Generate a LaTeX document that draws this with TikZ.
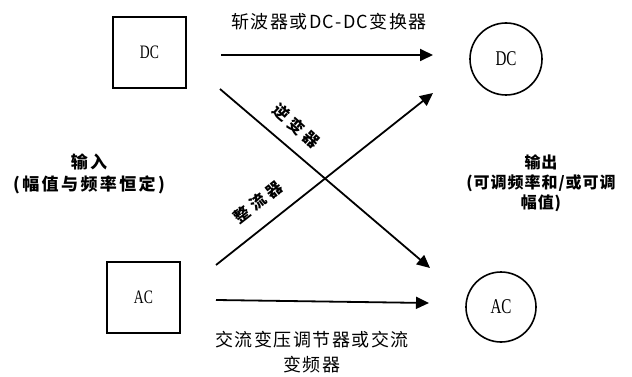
\documentclass[tikz,border=0pt]{standalone}
\usepackage{fontspec}
\setmainfont{Liberation Serif}
\newfontfamily\cjk{Noto Sans CJK SC}[LetterSpace=8]
\newfontfamily\cjkw{Noto Sans CJK SC}[LetterSpace=14]
\newfontfamily\cjkd{Noto Sans CJK SC}[LetterSpace=26]
\newfontfamily\cjkn{Noto Sans CJK SC}[LetterSpace=6]
\usetikzlibrary{arrows.meta}
\tikzset{
  inbox/.style={draw, line width=1.6pt, minimum width=73pt, minimum height=71pt, inner sep=0pt},
  outcirc/.style={draw, circle, line width=1.6pt, inner sep=0pt},
  conn/.style={line width=1.8pt, -{Triangle[length=13pt,width=12pt]}},
  lbl/.style={inner sep=0pt, align=center},
}
\begin{document}
\begin{tikzpicture}[x=1pt,y=-1pt]
\useasboundingbox (0,0) rectangle (632,377);
% input boxes
\node[inbox] (dcin) at (149.5,52.5) {\fontsize{19}{19}\selectfont\scalebox{0.72}[1]{DC}};
\node[inbox] (acin) at (143.5,297.5) {\fontsize{19}{19}\selectfont\scalebox{0.72}[1]{AC}};
% output circles
\node[outcirc, minimum size=72pt] (dcout) at (506,59) {\fontsize{21}{21}\selectfont\scalebox{0.72}[1]{DC}};
\node[outcirc, minimum size=70pt] (acout) at (501,307) {\fontsize{21}{21}\selectfont\scalebox{0.72}[1]{AC}};
% connector ends
\coordinate (t1) at (221,55);
\coordinate (t2) at (433,55);
\coordinate (d1s) at (220,89);
\coordinate (d1e) at (430,268);
\coordinate (d2s) at (216,265);
\coordinate (d2e) at (433,93);
\coordinate (b1) at (216,300);
\coordinate (b2) at (429,303);
\draw[conn] (t1) -- (t2);
\draw[conn] (d1s) -- (d1e);
\draw[conn] (d2s) -- (d2e);
\draw[conn] (b1) -- (b2);
% labels
\node[lbl, font=\cjk\fontsize{18}{18}\selectfont] (ltop) at (329,22) {斩波器或DC-DC变换器};
\node[lbl, font=\cjk\fontsize{18}{25}\selectfont] (lbot) at (312,352) {交流变压调节器或交流\\变频器};
\node[lbl, rotate=-42, font=\cjkd\fontsize{16}{16}\selectfont\bfseries] (linv) at (297,126) {逆变器};
\node[lbl, rotate=38, font=\cjkd\fontsize{16}{16}\selectfont\bfseries] (lrec) at (258,202) {整流器};
\node[lbl, font=\cjkw\fontsize{17}{22}\selectfont\bfseries] (lin) at (89,174) {输入\\(幅值与频率恒定)};
\node[lbl, font=\cjkn\fontsize{16}{20}\selectfont\bfseries] (lout) at (541,183) {输出\\(可调频率和/或可调\\幅值)};
\end{tikzpicture}
\end{document}
